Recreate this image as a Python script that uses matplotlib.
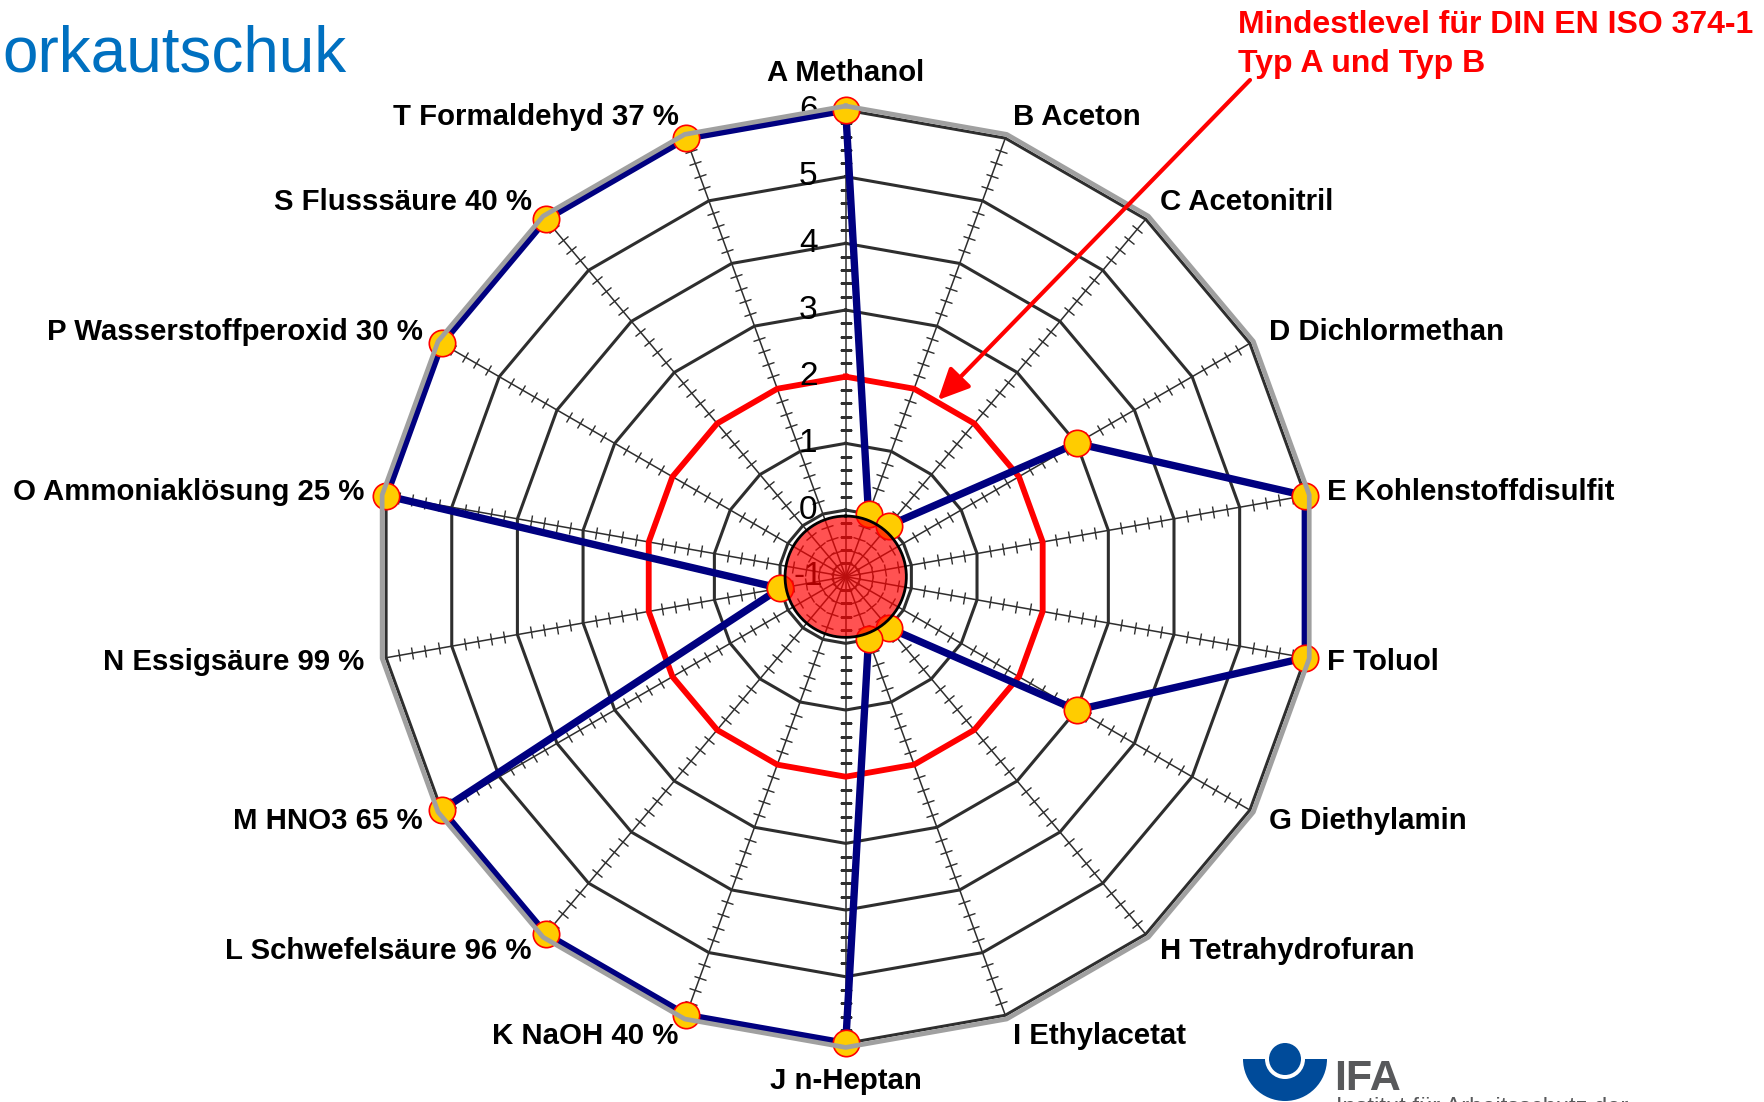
import numpy as np
import matplotlib
matplotlib.use("Agg")
import matplotlib.pyplot as plt
from matplotlib.markers import MarkerStyle
from matplotlib.transforms import Affine2D
from matplotlib.patches import Circle, Wedge, FancyArrowPatch

# ---------------- data ----------------
categories = ["A Methanol", "B Aceton", "C Acetonitril", "D Dichlormethan",
              "E Kohlenstoffdisulfit", "F Toluol", "G Diethylamin",
              "H Tetrahydrofuran", "I Ethylacetat", "J n-Heptan",
              "K NaOH 40 %", "L Schwefelsäure 96 %", "M HNO3 65 %",
              "N Essigsäure 99 %", "O Ammoniaklösung 25 %",
              "P Wasserstoffperoxid 30 %", "S Flusssäure 40 %",
              "T Formaldehyd 37 %"]
values = [6, 0, 0, 3, 6, 6, 3, 0, 0, 6, 6, 6, 6, 0, 6, 6, 6, 6]
min_level = 2
scale_ticks = [-1, 0, 1, 2, 3, 4, 5, 6]
title_text = "orkautschuk"
note_lines = ["Mindestlevel für DIN EN ISO 374-1", "Typ A und Typ B"]

plt.rcParams['font.family'] = ['Liberation Sans', 'DejaVu Sans']

W, H = 1765, 1102
fig = plt.figure(figsize=(W / 100, H / 100), dpi=100)

cx, cy, R = 845.7, 576.7, 466.7
ax = fig.add_axes([(cx - R) / W, (H - cy - R) / H, 2 * R / W, 2 * R / H],
                  projection='polar')
ax.set_theta_zero_location('N')
ax.set_theta_direction(-1)
rmin, rmax = scale_ticks[0], scale_ticks[-1]
ax.set_ylim(rmin, rmax)
ax.grid(False)
ax.set_xticks([])
ax.set_yticks([])
ax.spines['polar'].set_visible(False)
ax.patch.set_alpha(0)

n = len(categories)
theta = np.arange(n) * 2 * np.pi / n
theta_c = np.append(theta, theta[0])

grid_col = '#2E2E2E'
# spokes with small cross ticks
minor = np.round(np.arange(rmin + 0.2, rmax, 0.2), 2)
minor = minor[np.abs(minor - np.round(minor)) > 1e-6]
for t in theta:
    ax.plot([t, t], [rmin, rmax], color=grid_col, lw=1.1, zorder=1, clip_on=False)
    ms = MarkerStyle('_', transform=Affine2D().rotate_deg(-np.degrees(t)))
    ax.plot(np.full(len(minor), t), minor, ls='none', marker=ms,
            markersize=9, markeredgewidth=1.0, color=grid_col, zorder=1)

# ring polygons
for lv in scale_ticks[1:]:
    ax.plot(theta_c, np.full(n + 1, lv), color=grid_col, lw=2.2, zorder=2,
            clip_on=False)

# minimum level polygon (red)
ax.plot(theta_c, np.full(n + 1, min_level), color='#FF0000', lw=4.2, zorder=3,
        clip_on=False)

# scale labels along A axis
for v in scale_ticks:
    ax.annotate(str(v), xy=(0, v), xytext=(-27, 0), textcoords='offset points',
                ha='center', va='center', fontsize=24,
                family=['Liberation Sans Narrow', 'Liberation Sans'],
                color='black', zorder=3)

# data series
vals_c = np.append(values, values[0])
ax.plot(theta_c, vals_c, color='#000080', lw=5.3, zorder=4, clip_on=False,
        solid_joinstyle='miter')
ax.plot(theta, values, ls='none', marker='o', markersize=19,
        markerfacecolor='#FFCC00', markeredgecolor='#FF0000',
        markeredgewidth=1.2, zorder=5, clip_on=False)

# grey outer frame
ax.plot(theta_c, np.full(n + 1, rmax + 0.06), color='#A0A0A0', lw=3.4,
        zorder=6, clip_on=False)

# translucent red centre disk
circ_t = np.linspace(0, 2 * np.pi, 361)
ax.fill(circ_t, np.full(361, -0.09), color='#FF0000', alpha=0.68, lw=0,
        zorder=7)
ax.plot(circ_t, np.full(361, -0.09), color='black', lw=2.0, zorder=8)

# category labels
for t, lab in zip(theta, categories):
    deg = np.degrees(t) % 360
    if abs(deg) < 1e-6 or abs(deg - 180) < 1e-6:
        ax.text(t, 6.56, lab, ha='center', va='center', fontsize=21.2,
                fontweight='bold', clip_on=False)
    elif deg < 180:
        ax.text(t, 6.33, lab, ha='left', va='center', fontsize=21.2,
                fontweight='bold', clip_on=False)
    else:
        ax.text(t, 6.33, lab, ha='right', va='center', fontsize=21.2,
                fontweight='bold', clip_on=False)

# title (cropped at left edge)
fig.text(0.0015, 1 - 72 / H, title_text, ha='left', va='baseline',
         fontsize=46, color='#0070C0')

# red annotation
fig.text(1238 / W, 1 - 33 / H, note_lines[0], ha='left', va='baseline',
         fontsize=23, fontweight='bold', color='#FF0000')
fig.text(1238 / W, 1 - 72 / H, note_lines[1], ha='left', va='baseline',
         fontsize=23, fontweight='bold', color='#FF0000')
fig.add_artist(FancyArrowPatch(
    posA=(1250 / W, 1 - 80 / H), posB=(938 / W, 1 - 400 / H),
    transform=fig.transFigure, arrowstyle='-|>,head_length=0.95,head_width=0.45',
    mutation_scale=20, color='#FF0000', lw=3.0, shrinkA=0, shrinkB=0))

# IFA logo
lax = fig.add_axes([0, 0, 1, 1], zorder=10)
lax.set_xlim(0, W)
lax.set_ylim(H, 0)
lax.axis('off')
lax.patch.set_alpha(0)
blue = '#004B9A'
lax.add_patch(Wedge((1285, 1059), 42, 0, 180, color=blue, lw=0))
lax.add_patch(Circle((1285, 1059), 20, color='white', lw=0))
lax.add_patch(Circle((1285, 1059), 16, color=blue, lw=0))
lax.text(1334, 1090, "IFA", ha='left', va='baseline', fontsize=31,
         fontweight='bold', color='#58595B')
lax.text(1336, 1097, "Institut für Arbeitsschutz der", ha='left', va='top',
         fontsize=17, color='#58595B')

fig.savefig('out.png', dpi=100)
